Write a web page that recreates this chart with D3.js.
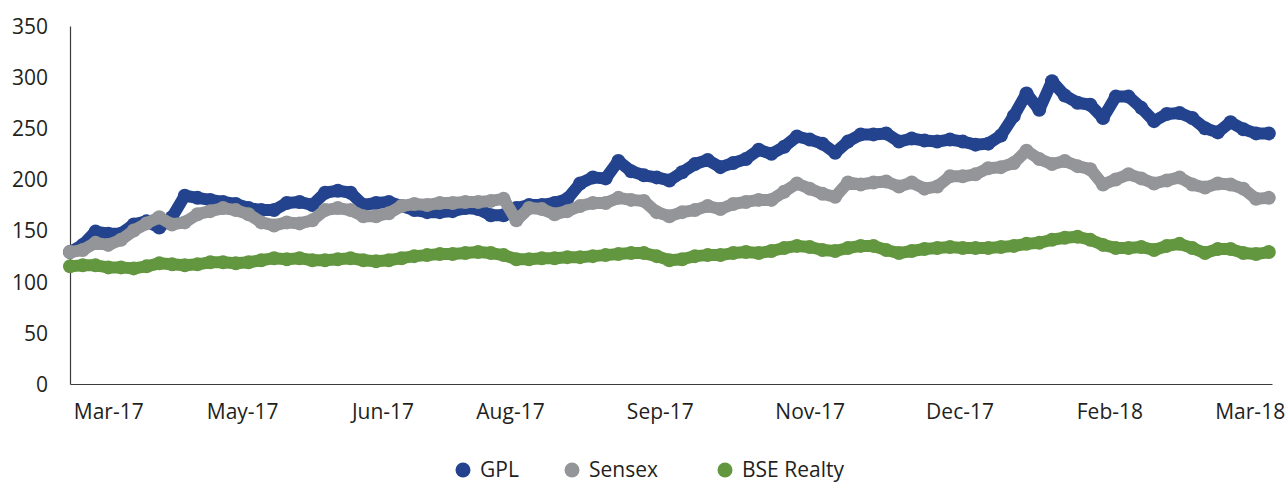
<!DOCTYPE html>
<html>
<head>
<meta charset="utf-8">
<script src="https://cdn.jsdelivr.net/npm/d3@7"></script>
<style>
    body {
        margin: 0;
        background: #fff;
    }

    svg text {
        font-family: "Open Sans", sans-serif;
        font-size: 21px;
        fill: #231f20;
    }

    .axis path {
        stroke: #3a3a3a;
        stroke-width: 1.2;
    }
</style>
</head>
<body>
<svg id="svg"></svg>
<script>
// dates of the points: every 4 days starting here
const startDate = new Date(2017, 2, 19);
const stepDays = 4;

const gpl = [
    129, 136, 149, 147, 147, 156, 159, 153, 163, 184,
    182, 180, 178, 176, 172, 170, 170, 177, 178, 175,
    187, 189, 187, 175, 177, 178, 174, 170, 168, 168,
    169, 172, 171, 165, 165, 172, 175, 175, 177, 181,
    196, 202, 201, 218, 208, 204, 202, 199, 207, 215,
    219, 212, 216, 220, 229, 225, 232, 242, 239, 235,
    226, 237, 244, 244, 245, 237, 240, 238, 237, 239,
    237, 234, 235, 243, 262, 284, 268, 296, 282, 275,
    273, 260, 281, 281, 270, 257, 264, 265, 260, 250,
    246, 256, 249, 245, 245
];

const sensex = [
    129, 131, 138, 136, 141, 150, 157, 163, 156, 158,
    166, 169, 172, 170, 166, 158, 155, 158, 157, 160,
    170, 172, 170, 164, 164, 167, 174, 176, 175, 177,
    177, 178, 178, 179, 181, 160, 172, 171, 166, 169,
    174, 177, 177, 182, 180, 179, 168, 164, 168, 170,
    174, 171, 176, 178, 180, 180, 188, 196, 191, 186,
    183, 197, 195, 197, 198, 193, 197, 191, 193, 203,
    203, 205, 211, 212, 216, 228, 220, 215, 218, 213,
    210, 195, 200, 205, 201, 196, 199, 202, 195, 192,
    196, 195, 191, 181, 182
];

const bseRealty = [
    115, 116, 116, 114, 114, 113, 115, 118, 117, 116,
    117, 119, 119, 118, 119, 121, 123, 122, 123, 121,
    121, 122, 123, 121, 120, 121, 123, 125, 126, 127,
    127, 128, 129, 128, 126, 122, 122, 123, 123, 124,
    124, 125, 126, 127, 128, 128, 125, 121, 122, 125,
    126, 126, 128, 129, 128, 130, 133, 135, 134, 131,
    130, 133, 135, 135, 131, 128, 130, 132, 133, 134,
    133, 133, 133, 134, 135, 137, 138, 141, 143, 144,
    141, 136, 133, 133, 134, 131, 135, 137, 133, 128,
    132, 132, 128, 127, 129
];

const seriesNames = ['GPL', 'Sensex', 'BSE Realty'];
const seriesColors = ['#23438e', '#939598', '#62963f'];

const xTickDates = [
    new Date(2017, 2, 31), new Date(2017, 4, 12), new Date(2017, 5, 25),
    new Date(2017, 7, 4), new Date(2017, 8, 20), new Date(2017, 10, 6),
    new Date(2017, 11, 23), new Date(2018, 1, 8), new Date(2018, 2, 24)
];
const yTicks = [0, 50, 100, 150, 200, 250, 300, 350];

const width = 1287, height = 484;
const margin = {top: 26, left: 70, right: 15, bottom: 100};

const svg = d3.select('#svg')
    .attr('width', width)
    .attr('height', height);

const xScale = d3.scaleTime()
    .domain([startDate, new Date(2018, 2, 31)])
    .range([margin.left, width - margin.right]);

const yScale = d3.scaleLinear()
    .domain([0, 350])
    .range([height - margin.bottom, margin.top]);

const dates = gpl.map((_, i) => d3.timeDay.offset(startDate, i * stepDays));

// axes
svg.append('g')
    .attr('class', 'axis axis-y')
    .attr('transform', 'translate(' + margin.left + ',0)')
    .call(d3.axisLeft(yScale).tickValues(yTicks).tickSize(0).tickPadding(22))
    .call(g => g.selectAll('text').attr('dy', '0.35em'));

svg.append('g')
    .attr('class', 'axis axis-x')
    .attr('transform', 'translate(0,' + (height - margin.bottom) + ')')
    .call(d3.axisBottom(xScale)
        .tickValues(xTickDates)
        .tickFormat(d3.timeFormat('%b-%y'))
        .tickSize(0)
        .tickPadding(20));

svg.selectAll('.axis text').style('font-size', '21px');

// series, drawn as thick beaded lines
const line = d3.line()
    .x((d, i) => xScale(dates[i]))
    .y(d => yScale(d));

[gpl, sensex, bseRealty].forEach((values, k) => {
    const g = svg.append('g');
    g.append('path')
        .datum(values)
        .attr('d', line)
        .attr('fill', 'none')
        .attr('stroke', seriesColors[k])
        .attr('stroke-width', 12)
        .attr('stroke-linejoin', 'round')
        .attr('stroke-linecap', 'round');
    g.selectAll('circle')
        .data(values)
        .enter()
        .append('circle')
        .attr('cx', (d, i) => xScale(dates[i]))
        .attr('cy', d => yScale(d))
        .attr('r', 7)
        .attr('fill', seriesColors[k]);
});

// legend
const legendX = [463, 572, 725];
const legend = svg.append('g');
seriesNames.forEach((name, k) => {
    legend.append('circle')
        .attr('cx', legendX[k])
        .attr('cy', 470)
        .attr('r', 7.5)
        .attr('fill', seriesColors[k]);
    legend.append('text')
        .attr('x', legendX[k] + 17)
        .attr('y', 477)
        .text(name);
});
</script>
</body>
</html>
